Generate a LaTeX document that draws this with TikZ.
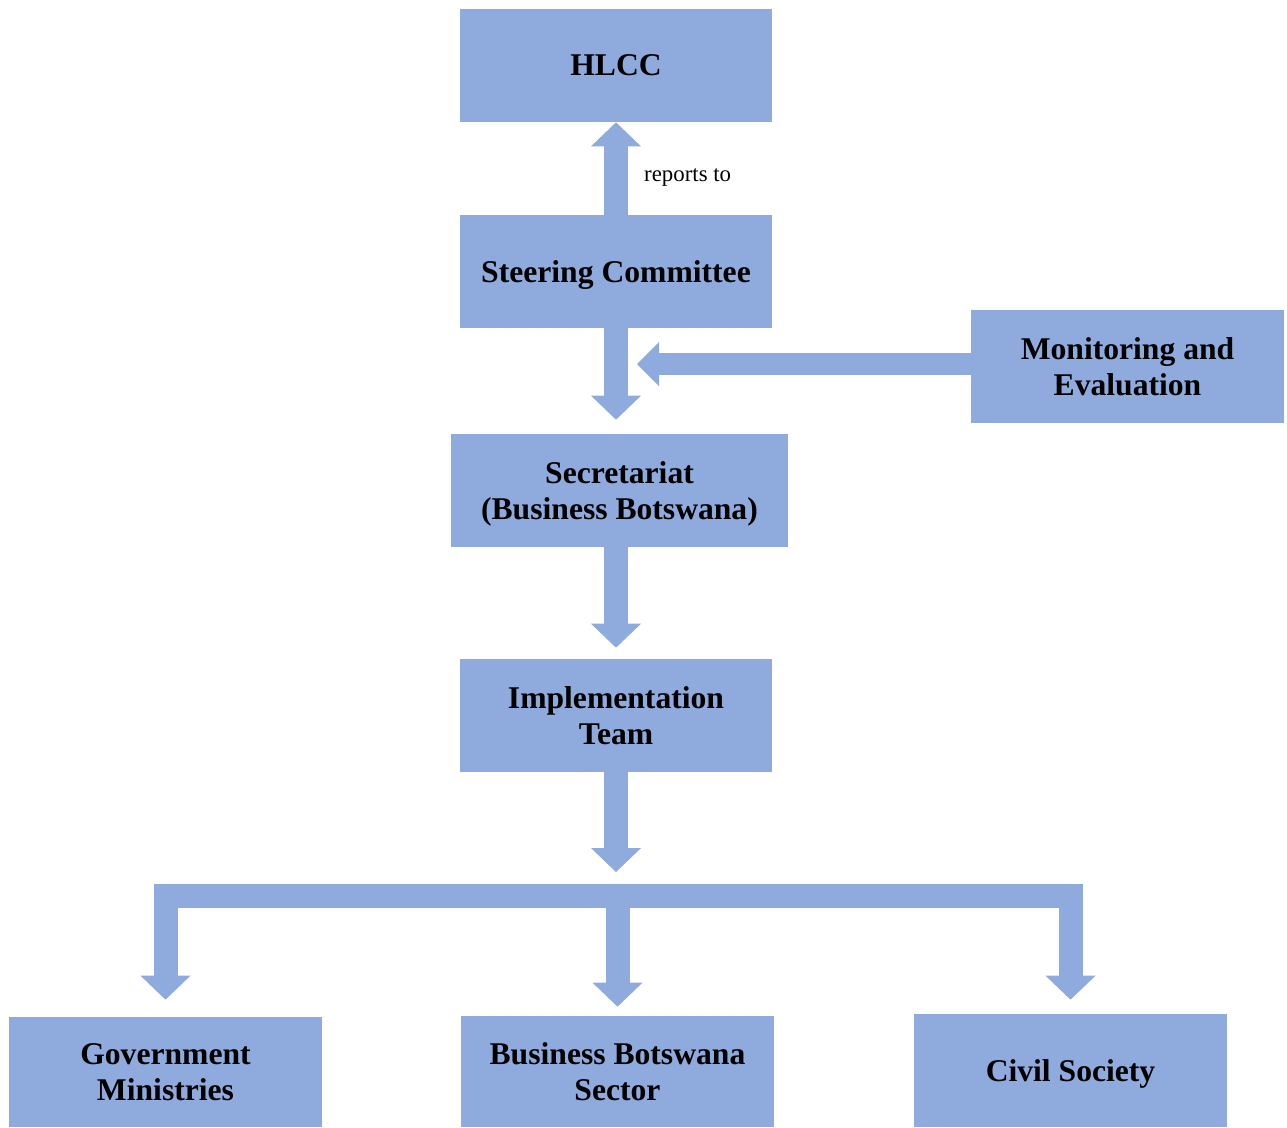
\documentclass[tikz,border=0pt]{standalone}
\usepackage{fontspec}
\setmainfont{Liberation Serif}
\usetikzlibrary{arrows.meta}
\definecolor{boxblue}{HTML}{8FAADC}
\tikzset{
  unit/.style={fill=boxblue, minimum width=6.26cm, minimum height=2.26cm, inner sep=0pt,
    text depth=0pt, align=center, font=\bfseries\fontsize{18}{20.5}\selectfont},
  flow/.style={draw=boxblue, line width=0.48cm,
    -{Triangle[length=0.48cm, width=1.0cm, line width=0pt, color=boxblue]}},
}
\begin{document}
\begin{tikzpicture}[x=0.02cm,y=-0.02cm]
\useasboundingbox (0,0) rectangle (1287,1127);

% boxes
\node[unit] (hlcc) at (616,65.5) {HLCC};
\node[unit] (steer) at (616,271.5) {Steering Committee};
\node[unit] (monev) at (1127.5,366.5) {Monitoring and\\Evaluation};
\node[unit, minimum width=6.74cm] (secr) at (619.5,490.5) {Secretariat\\(Business Botswana)};
\node[unit] (impl) at (616,715.5) {Implementation\\Team};
\node[unit, minimum height=2.2cm] (govt) at (165.5,1072) {Government\\Ministries};
\node[unit, minimum height=2.22cm] (bbs) at (617.5,1071.5) {Business Botswana\\Sector};
\node[unit] (civil) at (1070.5,1070.5) {Civil Society};

\coordinate (mehead) at (637,364);
\coordinate (split) at (616,896);

% arrows
\draw[flow] (steer.north) -- (hlcc.south);
\node[anchor=west, font=\fontsize{13}{15}\selectfont] (rep) at (638,177) {reports to};
\draw[flow, shorten >=0.28cm] (steer.south) -- (secr.north -| steer);
\draw[flow, line width=0.44cm, -{Triangle[length=0.44cm, width=0.88cm, line width=0pt, color=boxblue]}]
  (monev.west |- mehead) -- (mehead);
\draw[flow, shorten >=0.22cm] (secr.south -| impl) -- (impl.north);
\draw[flow, shorten >=0.48cm] (impl.south) -- (split);

\draw[flow, shorten >=0.34cm] (split) -| (govt.north);
\draw[flow, shorten >=0.18cm] (split) -- (split -| bbs.north) -- (bbs.north);
\draw[flow, shorten >=0.28cm] (split) -| (civil.north);
\end{tikzpicture}
\end{document}
